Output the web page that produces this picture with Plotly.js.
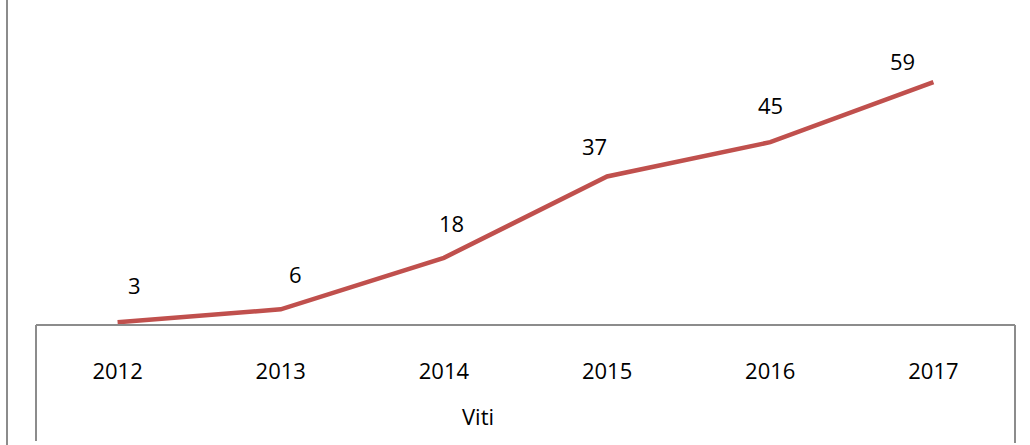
<!DOCTYPE html>
<html>
<head>
<meta charset="utf-8">
<script src="https://cdn.plot.ly/plotly-3.0.1.min.js"></script>
<style>
html,body{margin:0;padding:0;background:#fff;}
#chart{width:1030px;height:445px;}
</style>
</head>
<body>
<div id="chart"></div>
<script>
var years = ['2012', '2013', '2014', '2015', '2016', '2017'];
var values = [3, 6, 18, 37, 45, 59];
var axisTitle = 'Viti';

// label offsets (pixels) as placed in the reference
var labelDx = [17, 15, 8, -13, 0, -31];
var labelDy = [37, 35, 35, 30, 37, 21];

var W = 1030, H = 445;
var L = 36, R = 15, T = 0, B = 110;
var pw = W - L - R, ph = H - T - B;
function px(x) { return (x - L) / pw; }
function py(y) { return (H - B - y) / ph; }

var FONT = 'Open Sans, Lato, sans-serif';

var trace = {
  x: years,
  y: values,
  type: 'scatter',
  mode: 'lines',
  line: {color: '#C0504D', width: 4.5},
  hoverinfo: 'skip'
};

var annotations = values.map(function (v, i) {
  return {
    x: i, y: v, xref: 'x', yref: 'y',
    text: String(v), showarrow: false,
    xanchor: 'center', yanchor: 'middle',
    xshift: labelDx[i], yshift: labelDy[i],
    font: {family: FONT, size: 22, color: '#000'}
  };
});
annotations.push({
  x: px(478), y: py(416), xref: 'paper', yref: 'paper',
  xanchor: 'center', yanchor: 'middle',
  text: axisTitle, showarrow: false,
  font: {family: FONT, size: 22, color: '#000'}
});

var lineStyle = {color: '#8c8c8c', width: 2};
var shapes = [
  {type: 'line', xref: 'paper', yref: 'paper', x0: px(36), x1: px(1015), y0: py(325), y1: py(325), line: lineStyle},
  {type: 'line', xref: 'paper', yref: 'paper', x0: px(36), x1: px(36), y0: py(325), y1: py(441), line: lineStyle},
  {type: 'line', xref: 'paper', yref: 'paper', x0: px(1015), x1: px(1015), y0: py(325), y1: py(443), line: lineStyle},
  {type: 'line', xref: 'paper', yref: 'paper', x0: px(7), x1: px(7), y0: py(0), y1: py(445), line: lineStyle}
];

var layout = {
  width: W, height: H,
  margin: {l: L, r: R, t: T, b: B, pad: 0},
  paper_bgcolor: '#fff',
  plot_bgcolor: 'rgba(0,0,0,0)',
  showlegend: false,
  xaxis: {
    type: 'category',
    range: [-0.5, 5.5],
    showgrid: false, zeroline: false, showline: false,
    ticks: 'outside', ticklen: 17, tickcolor: 'rgba(0,0,0,0)',
    tickfont: {family: FONT, size: 22, color: '#000'},
    fixedrange: true
  },
  yaxis: {
    range: [0, 78.17],
    visible: false,
    fixedrange: true
  },
  shapes: shapes,
  annotations: annotations
};

Plotly.newPlot('chart', [trace], layout, {staticPlot: true, displayModeBar: false});
</script>
</body>
</html>
